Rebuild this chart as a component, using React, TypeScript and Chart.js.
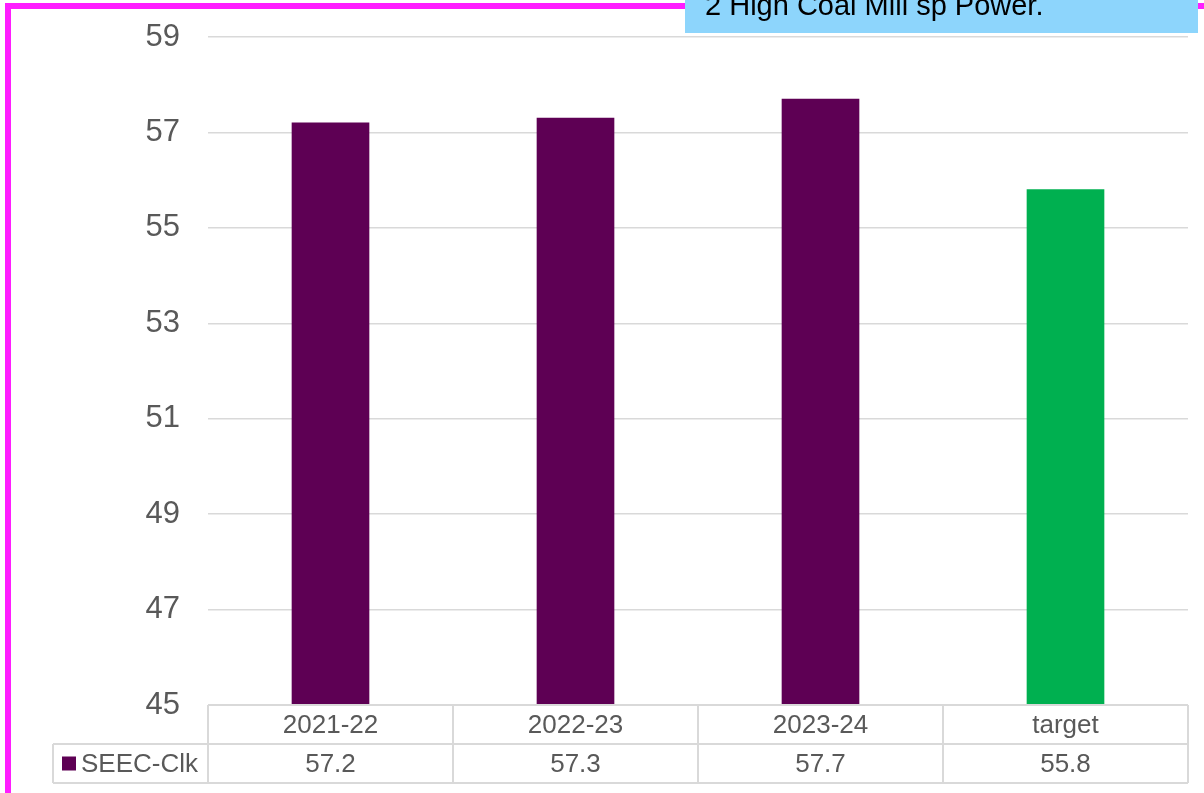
import React, { useEffect, useRef } from "react";
import { Chart, registerables } from "chart.js";

Chart.register(...registerables);

const categories = ["2021-22", "2022-23", "2023-24", "target"];
const seriesName = "SEEC-Clk";
const seecClk = [57.2, 57.3, 57.7, 55.8];
const valueLabels = ["57.2", "57.3", "57.7", "55.8"];
const yMin = 45;
const yMax = 59;
const yStep = 2;
const noteText = "2 High Coal Mill sp Power.";

const PURPLE = "#5e0054";
const GREEN = "#00b050";
const barColors = [PURPLE, PURPLE, PURPLE, GREEN];
const FONT = '"Liberation Sans", Arial, sans-serif';
const GRID = "#d9d9d9";
const TEXT = "#595959";

const tablePlugin = {
  id: "tablePlugin",
  afterDraw(chart: any) {
    const ctx = chart.ctx as CanvasRenderingContext2D;
    const area = chart.chartArea;
    const x = chart.scales.x;
    const n = categories.length;
    const colW = (area.right - area.left) / n;
    const top = area.bottom;
    const row1 = top + 39;
    const row2 = row1 + 39;
    const legendLeft = 53;
    ctx.save();
    ctx.strokeStyle = GRID;
    ctx.lineWidth = 2;
    ctx.beginPath();
    ctx.moveTo(area.left, top);
    ctx.lineTo(area.right, top);
    ctx.moveTo(legendLeft, row1);
    ctx.lineTo(area.right, row1);
    ctx.moveTo(legendLeft, row2);
    ctx.lineTo(area.right, row2);
    ctx.moveTo(legendLeft, row1);
    ctx.lineTo(legendLeft, row2);
    for (let i = 0; i <= n; i++) {
      const vx = area.left + i * colW;
      ctx.moveTo(vx, top);
      ctx.lineTo(vx, row2);
    }
    ctx.stroke();

    ctx.fillStyle = TEXT;
    ctx.font = `26px ${FONT}`;
    ctx.textAlign = "center";
    ctx.textBaseline = "middle";
    for (let i = 0; i < n; i++) {
      const cx = x.getPixelForValue(i);
      ctx.fillText(categories[i], cx, (top + row1) / 2 + 1);
      ctx.fillText(valueLabels[i], cx, (row1 + row2) / 2 + 1);
    }
    // legend key
    ctx.fillStyle = PURPLE;
    ctx.fillRect(62, (row1 + row2) / 2 - 7, 14, 14);
    ctx.fillStyle = TEXT;
    ctx.textAlign = "left";
    ctx.fillText(seriesName, 81, (row1 + row2) / 2 + 1);

    // magenta frame
    ctx.fillStyle = "#ff1dff";
    ctx.fillRect(5, 3, 6, 790);
    ctx.fillRect(5, 3, 1199, 6);

    // note box
    ctx.fillStyle = "#8dd5fc";
    ctx.fillRect(685, 0, 513, 33);
    ctx.fillStyle = "#000000";
    ctx.font = `29px ${FONT}`;
    ctx.textAlign = "left";
    ctx.textBaseline = "alphabetic";
    ctx.fillText(noteText, 705, 15);
    ctx.restore();
  },
};

export default function App() {
  const ref = useRef<HTMLCanvasElement>(null);
  useEffect(() => {
    document.body.style.margin = "0";
    const chart = new Chart(ref.current!, {
      type: "bar",
      data: {
        labels: categories,
        datasets: [
          {
            label: seriesName,
            data: seecClk,
            backgroundColor: barColors,
            barThickness: 77,
          },
        ],
      },
      options: {
        animation: false,
        responsive: false,
        layout: { padding: { left: 0, right: 16, top: 37, bottom: 88 } },
        plugins: {
          legend: { display: false },
          tooltip: { enabled: false },
        },
        scales: {
          x: { display: false },
          y: {
            min: yMin,
            max: yMax,
            afterFit: (s: any) => {
              s.width = 208;
              s.paddingTop = 0;
              s.paddingBottom = 0;
            },
            border: { display: false },
            grid: { color: GRID, lineWidth: 1.5, drawTicks: false },
            ticks: {
              stepSize: yStep,
              padding: 28,
              color: TEXT,
              font: { family: FONT, size: 31 },
            },
          },
        },
      },
      plugins: [tablePlugin],
    });
    return () => chart.destroy();
  }, []);
  return (
    <canvas
      ref={ref}
      width={1204}
      height={793}
      style={{ position: "absolute", left: 0, top: 0, display: "block" }}
    />
  );
}
